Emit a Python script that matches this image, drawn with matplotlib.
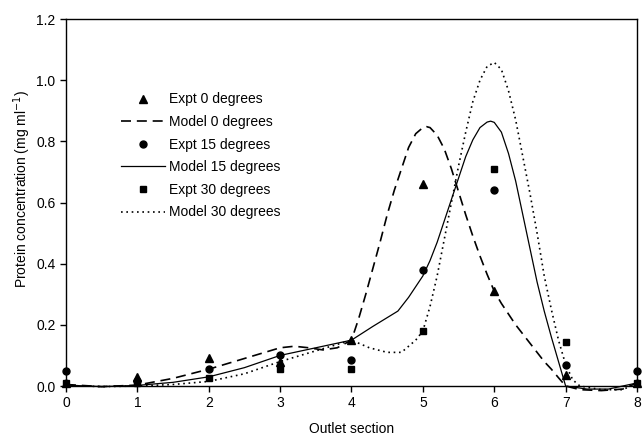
import matplotlib
matplotlib.use("Agg")
import matplotlib.pyplot as plt
from matplotlib.lines import Line2D

plt.rcParams['font.family'] = ['Liberation Sans', 'DejaVu Sans']

sections = [0, 1, 2, 3, 4, 5, 6, 7, 8]
expt_0 = [0.01, 0.03, 0.09, 0.08, 0.15, 0.66, 0.31, 0.035, 0.01]
expt_15 = [0.05, 0.015, 0.055, 0.10, 0.085, 0.38, 0.64, 0.07, 0.05]
expt_30 = [0.01, 0.01, 0.025, 0.055, 0.055, 0.18, 0.71, 0.145, 0.01]

model_0_x = [0, 0.5, 1, 1.5, 2, 2.5, 3, 3.2, 3.4, 3.6, 3.8, 4, 4.1, 4.2, 4.3, 4.4, 4.5,
             4.6, 4.7, 4.8, 4.9, 5.0, 5.05, 5.1, 5.2, 5.3, 5.4, 5.5, 5.6, 5.7, 5.8, 5.9,
             6.0, 6.1, 6.2, 6.3, 6.4, 6.5, 6.6, 6.7, 6.8, 6.9, 7.0, 7.2, 7.5, 7.8, 8.0]
model_0_y = [0.005, -0.002, 0.003, 0.025, 0.055, 0.09, 0.125, 0.13, 0.125, 0.118, 0.125,
             0.15, 0.22, 0.30, 0.385, 0.47, 0.56, 0.64, 0.71, 0.78, 0.825, 0.845, 0.848,
             0.845, 0.82, 0.775, 0.71, 0.635, 0.56, 0.49, 0.425, 0.365, 0.31, 0.27,
             0.235, 0.20, 0.17, 0.14, 0.11, 0.08, 0.055, 0.027, 0.0, -0.012, -0.015,
             -0.01, 0.01]

model_15_x = [0, 0.5, 1, 1.5, 2, 2.5, 3, 3.5, 4, 4.3, 4.65, 4.8, 5.0, 5.1, 5.2, 5.3, 5.4,
              5.5, 5.6, 5.7, 5.8, 5.9, 5.95, 6.0, 6.1, 6.2, 6.3, 6.4, 6.5, 6.6, 6.7, 6.8,
              6.9, 7.0, 7.3, 7.6, 8.0]
model_15_y = [0.003, -0.002, 0.002, 0.012, 0.03, 0.06, 0.10, 0.125, 0.15, 0.195, 0.245,
              0.29, 0.36, 0.41, 0.47, 0.54, 0.61, 0.68, 0.75, 0.805, 0.845, 0.863, 0.866,
              0.862, 0.83, 0.76, 0.67, 0.56, 0.45, 0.34, 0.245, 0.16, 0.08, 0.0, -0.01,
              -0.01, 0.01]

model_30_x = [0, 0.5, 1, 1.5, 2, 2.5, 3, 3.5, 4, 4.25, 4.5, 4.7, 4.9, 5.0, 5.1, 5.2, 5.3,
              5.4, 5.5, 5.6, 5.7, 5.8, 5.9, 6.0, 6.1, 6.2, 6.3, 6.4, 6.5, 6.6, 6.7, 6.8,
              6.9, 7.0, 7.1, 7.2, 7.5, 7.8, 8.0]
model_30_y = [0.002, -0.002, 0.0, 0.005, 0.015, 0.04, 0.08, 0.115, 0.15, 0.125, 0.11,
              0.11, 0.15, 0.18, 0.26, 0.36, 0.48, 0.60, 0.72, 0.83, 0.93, 1.0, 1.045,
              1.058, 1.035, 0.965, 0.87, 0.75, 0.63, 0.50, 0.36, 0.25, 0.15, 0.07, 0.02,
              0.0, -0.012, -0.012, 0.01]

labels = ["Expt 0 degrees", "Model 0 degrees", "Expt 15 degrees",
          "Model 15 degrees", "Expt 30 degrees", "Model 30 degrees"]

fig = plt.figure(figsize=(6.43, 4.38), dpi=100)
ax = fig.add_axes([0.1026, 0.1187, 0.8881, 0.8379])

lw = 1.2
ax.plot(model_0_x, model_0_y, color='black', lw=lw, dashes=(6, 3.5), clip_on=False)
ax.plot(model_15_x, model_15_y, color='black', lw=0.9, clip_on=False)
ax.plot(model_30_x, model_30_y, color='black', lw=lw, dashes=(1, 2.2), clip_on=False)

ax.plot(sections, expt_0, linestyle='none', marker='^', color='black', ms=6, clip_on=False)
ax.plot(sections, expt_15, linestyle='none', marker='o', color='black', ms=5, clip_on=False)
ax.plot(sections, expt_30, linestyle='none', marker='s', color='black', ms=4.5, clip_on=False)

ax.set_xlim(0, 8)
ax.set_ylim(0, 1.2)
ax.set_xticks(range(0, 9))
ax.set_yticks([0.0, 0.2, 0.4, 0.6, 0.8, 1.0, 1.2])
ax.set_yticklabels(["0.0", "0.2", "0.4", "0.6", "0.8", "1.0", "1.2"])
ax.tick_params(direction='out', length=4, width=1, labelsize=10, top=False, right=False)
for s in ax.spines.values():
    s.set_linewidth(1)

ax.set_xlabel("Outlet section", fontsize=10, labelpad=8)
ax.set_ylabel("Protein concentration (mg ml$^{-1}$)", fontsize=10)
ax.yaxis.set_label_coords(-0.058, 0.537)

handles = [
    Line2D([], [], linestyle='none', marker='^', color='black', ms=6),
    Line2D([], [], color='black', lw=lw, dashes=(6, 3.5)),
    Line2D([], [], linestyle='none', marker='o', color='black', ms=5),
    Line2D([], [], color='black', lw=0.9),
    Line2D([], [], linestyle='none', marker='s', color='black', ms=4.5),
    Line2D([], [], color='black', lw=lw, dashes=(1, 2.2)),
]
ax.legend(handles, labels, loc='upper left', bbox_to_anchor=(0.096, 0.80),
          frameon=False, fontsize=10, handlelength=3.2, handletextpad=0.3,
          labelspacing=0.62, borderpad=0, borderaxespad=0)

fig.savefig("out.png", dpi=100)
